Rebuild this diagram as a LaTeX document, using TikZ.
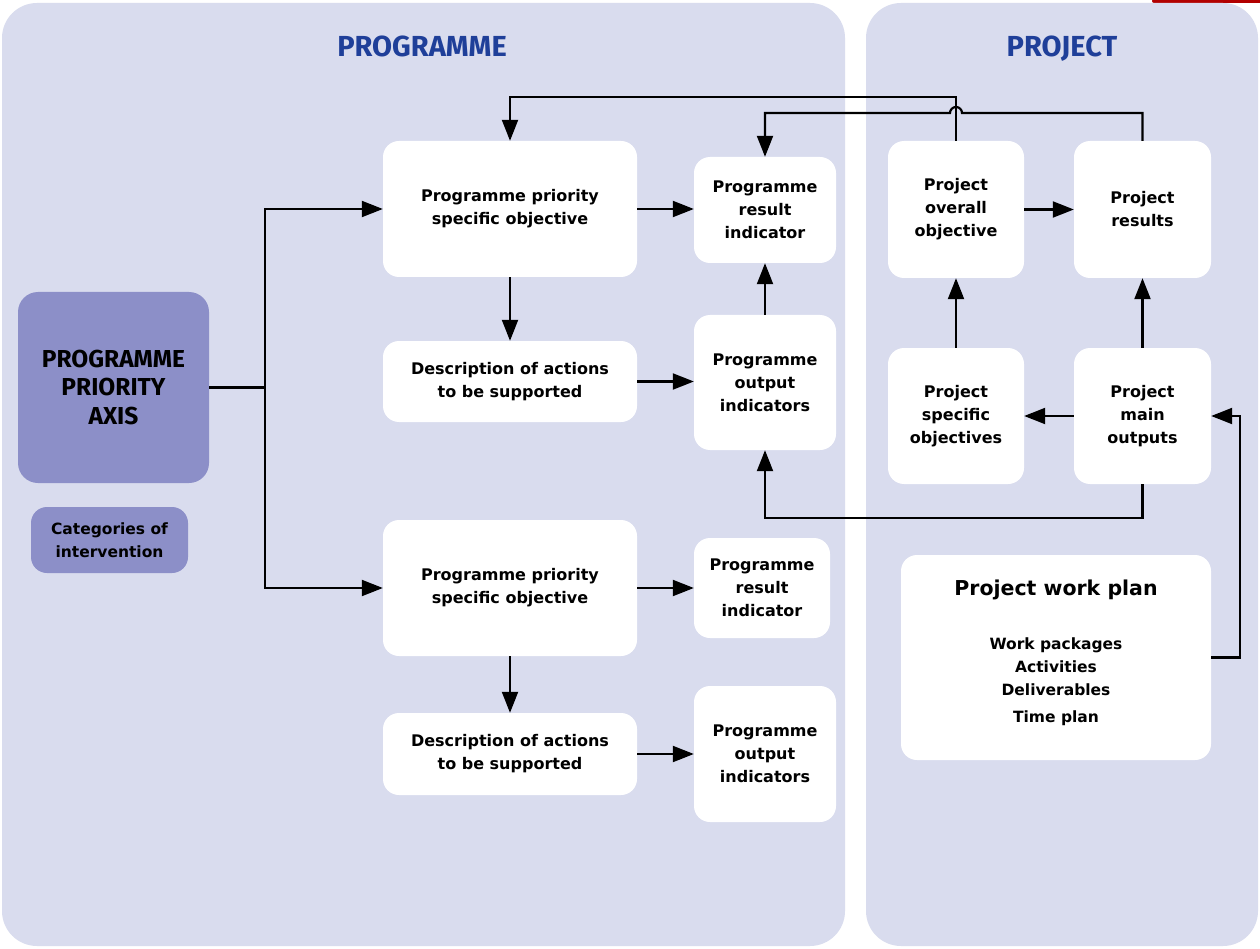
\documentclass[tikz,border=0pt]{standalone}
\usepackage{fontspec}
\setmainfont{DejaVu Sans}
\newfontfamily\fira{Fira Sans}
\usetikzlibrary{arrows.meta}
\definecolor{panel}{RGB}{217,220,238}
\definecolor{axisc}{RGB}{140,143,200}
\definecolor{ttl}{RGB}{31,63,153}
\begin{document}
\begin{tikzpicture}[x=1pt,y=1pt,
  wbox/.style={fill=white, rounded corners=16pt, align=center, inner sep=0pt,
    font=\fontsize{16}{23}\selectfont\bfseries},
  pbox/.style={fill=axisc, rounded corners=20pt, align=center, inner sep=0pt},
  ttlf/.style={text=ttl, anchor=base, inner sep=0pt, font=\fira\fontsize{29}{34}\selectfont\bfseries},
  lin/.style={line width=2.2pt, draw=black},
  arr/.style={lin, -{Triangle[length=21pt,width=16pt]}}
]
\useasboundingbox (0,0) rectangle (1260,-949);
\fill[white] (0,0) rectangle (1260,-949);
\fill[red!70!black, rounded corners=2pt] (1152,1) rectangle (1262,-3);
% panels
\fill[panel, rounded corners=35pt] (2,-3) rectangle (845,-946);
\fill[panel, rounded corners=35pt] (866,-3) rectangle (1258,-946);
\node[ttlf] (tprog) at (422,-56.5) {PROGRAMME};
\node[ttlf] (tproj) at (1062,-56.5) {PROJECT};
% programme nodes
\node[pbox, minimum width=191pt, minimum height=191pt,
  font=\fira\fontsize{24.5}{28.5}\selectfont\bfseries] (ppa) at (113.5,-387.5) {PROGRAMME\\PRIORITY\\AXIS};
\node[pbox, rounded corners=16pt, minimum width=157pt, minimum height=66pt,
  font=\fontsize{15.5}{23}\selectfont\bfseries] (coi) at (109.5,-540) {Categories of\\intervention};
\node[wbox, minimum width=254pt, minimum height=136pt] (ppso1) at (510,-209) {Programme priority\\specific objective};
\node[wbox, minimum width=142pt, minimum height=106pt] (pri1) at (765,-210) {Programme\\result\\indicator};
\node[wbox, minimum width=254pt, minimum height=81pt] (da1) at (510,-381.5) {Description of actions\\to be supported};
\node[wbox, minimum width=142pt, minimum height=135pt] (poi1) at (765,-382.5) {Programme\\output\\indicators};
\node[wbox, minimum width=254pt, minimum height=136pt] (ppso2) at (510,-588) {Programme priority\\specific objective};
\node[wbox, minimum width=136pt, minimum height=100pt] (pri2) at (762,-588) {Programme\\result\\indicator};
\node[wbox, minimum width=254pt, minimum height=82pt] (da2) at (510,-754) {Description of actions\\to be supported};
\node[wbox, minimum width=142pt, minimum height=136pt] (poi2) at (765,-754) {Programme\\output\\indicators};
% project nodes
\node[wbox, minimum width=136pt, minimum height=137pt] (poo) at (956,-209.5) {Project\\overall\\objective};
\node[wbox, minimum width=137pt, minimum height=137pt] (pr) at (1142.5,-209.5) {Project\\results};
\node[wbox, minimum width=136pt, minimum height=136pt] (pso) at (956,-416) {Project\\specific\\objectives};
\node[wbox, minimum width=137pt, minimum height=136pt] (pmo) at (1142.5,-416) {Project\\main\\outputs};
\node[wbox, minimum width=310pt, minimum height=205pt] (pwp) at (1056,-657.5) {};
\node[font=\fontsize{20.5}{25}\selectfont\bfseries, inner sep=0pt] (pwpt) at (1056,-590) {Project work plan};
\node[font=\fontsize{15.5}{23}\selectfont\bfseries, align=center, inner sep=0pt] (pwpl) at (1056,-682) {Work packages\\Activities\\Deliverables\\[4pt]Time plan};
% connectors
\coordinate (jm) at (265,-387.5);
\coordinate (jt) at (265,-209);
\coordinate (jb) at (265,-588);
\draw[lin] (ppa.east) -- (jm);
\draw[arr] (jm) -- (jt) -- (ppso1.west);
\draw[arr] (jm) -- (jb) -- (ppso2.west);
\draw[arr] (ppso1.east) -- (ppso1.east -| pri1.west);
\draw[arr] (ppso1.south) -- (da1.north);
\draw[arr] (da1.east) -- (da1.east -| poi1.west);
\draw[arr] (poi1.north) -- (pri1.south);
\draw[arr] (ppso2.east) -- (ppso2.east -| pri2.west);
\draw[arr] (ppso2.south) -- (da2.north);
\draw[arr] (da2.east) -- (da2.east -| poi2.west);
\draw[arr] (poo.east) -- (poo.east -| pr.west);
\draw[arr] (pso.north) -- (poo.south);
\draw[arr] (pmo.north) -- (pr.south);
\draw[arr] (pmo.west) -- (pmo.west -| pso.east);
\coordinate (t1) at (0,-97);
\draw[arr] (poo.north) -- (poo.north |- t1) -| (ppso1.north);
\coordinate (hopR) at (962,-113);
\draw[arr] (pr.north) |- (hopR) arc[start angle=0, end angle=180, radius=6pt] -| (pri1.north);
\coordinate (b1) at (0,-518);
\draw[arr] (pmo.south) -- (pmo.south |- b1) -| (poi1.south);
\coordinate (r1) at (1240,0);
\draw[arr] (pwp.east) -- (pwp.east -| r1) |- (pmo.east);
\end{tikzpicture}
\end{document}
